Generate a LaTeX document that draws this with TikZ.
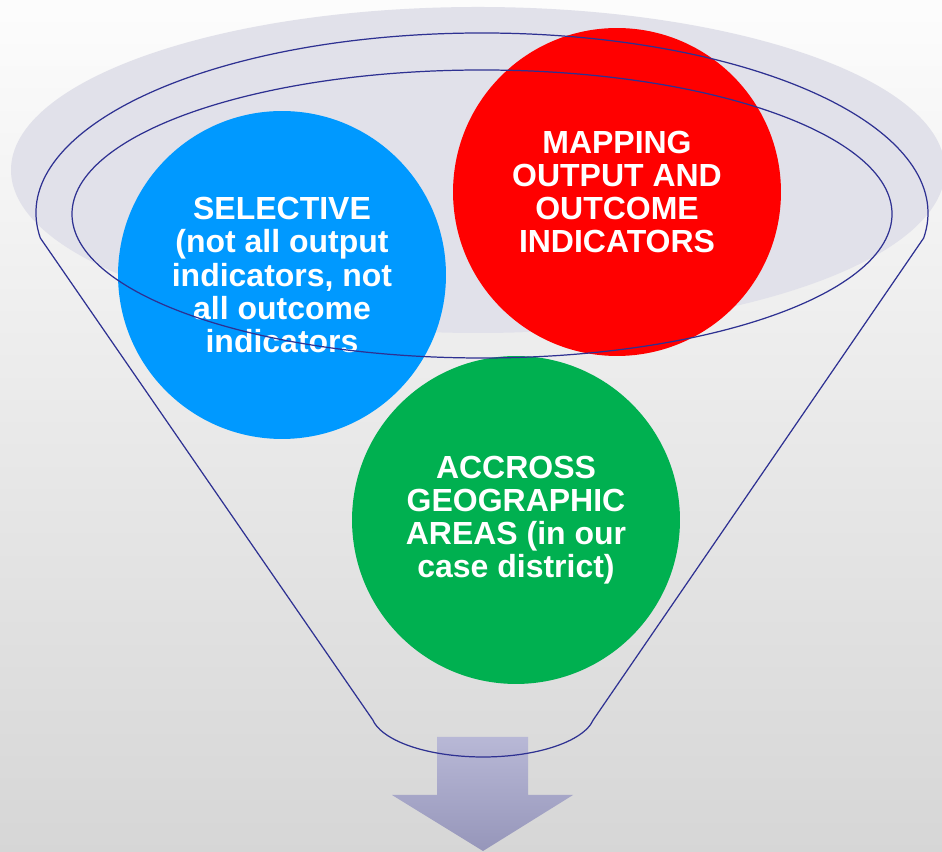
\documentclass[tikz,border=0pt]{standalone}
\usepackage{fontspec}
\setmainfont{Liberation Sans}
\usetikzlibrary{positioning}
\definecolor{rimline}{RGB}{46,49,146}
\definecolor{bubbleblue}{RGB}{0,153,255}
\definecolor{bubblered}{RGB}{255,0,0}
\definecolor{bubblegreen}{RGB}{0,176,80}
\definecolor{mouthgray}{RGB}{225,225,234}
\definecolor{arrowtop}{RGB}{184,184,214}
\definecolor{arrowbot}{RGB}{150,150,186}
\tikzset{
  bubble/.style={circle, minimum size=6.56cm, inner sep=0pt, align=center, text=white,
    font=\fontsize{18.2}{18.8}\selectfont\bfseries},
  funnelline/.style={draw=rimline, line width=0.7pt}
}

\begin{document}
\begin{tikzpicture}[x=0.02cm,y=0.02cm]
                \useasboundingbox (0,0) rectangle (942,851);
                \clip (0,0) rectangle (942,851);
                \shade[top color=black!1, bottom color=black!16] (0,0) rectangle (942,851);
                \fill[mouthgray] (478,681) ellipse[x radius=467, y radius=163];
                \node[bubble, fill=bubbleblue] (selective) at (282,576) {SELECTIVE\\(not all output\\indicators, not\\all outcome\\indicators};
                \node[bubble, fill=bubblered] (mapping) at (617,659) {MAPPING\\OUTPUT AND\\OUTCOME\\INDICATORS};
                \node[bubble, fill=bubblegreen] (accross) at (516,331) {ACCROSS\\GEOGRAPHIC\\AREAS (in our\\case district)};
                \shade[top color=arrowtop, bottom color=arrowbot] (437,114) -- (528,114) -- (528,56) -- (573,56) -- (483,0) -- (392,56) -- (437,56) -- cycle;
                \draw[funnelline] (40.34,612.95) arc[start angle=188, end angle=-8, x radius=446, y radius=180] -- (593.3,131.2) arc[start angle=350, end angle=190, x radius=112, y radius=45] -- cycle;
                \draw[funnelline] (482,637) ellipse[x radius=410, y radius=144];
            \end{tikzpicture}
\end{document}
